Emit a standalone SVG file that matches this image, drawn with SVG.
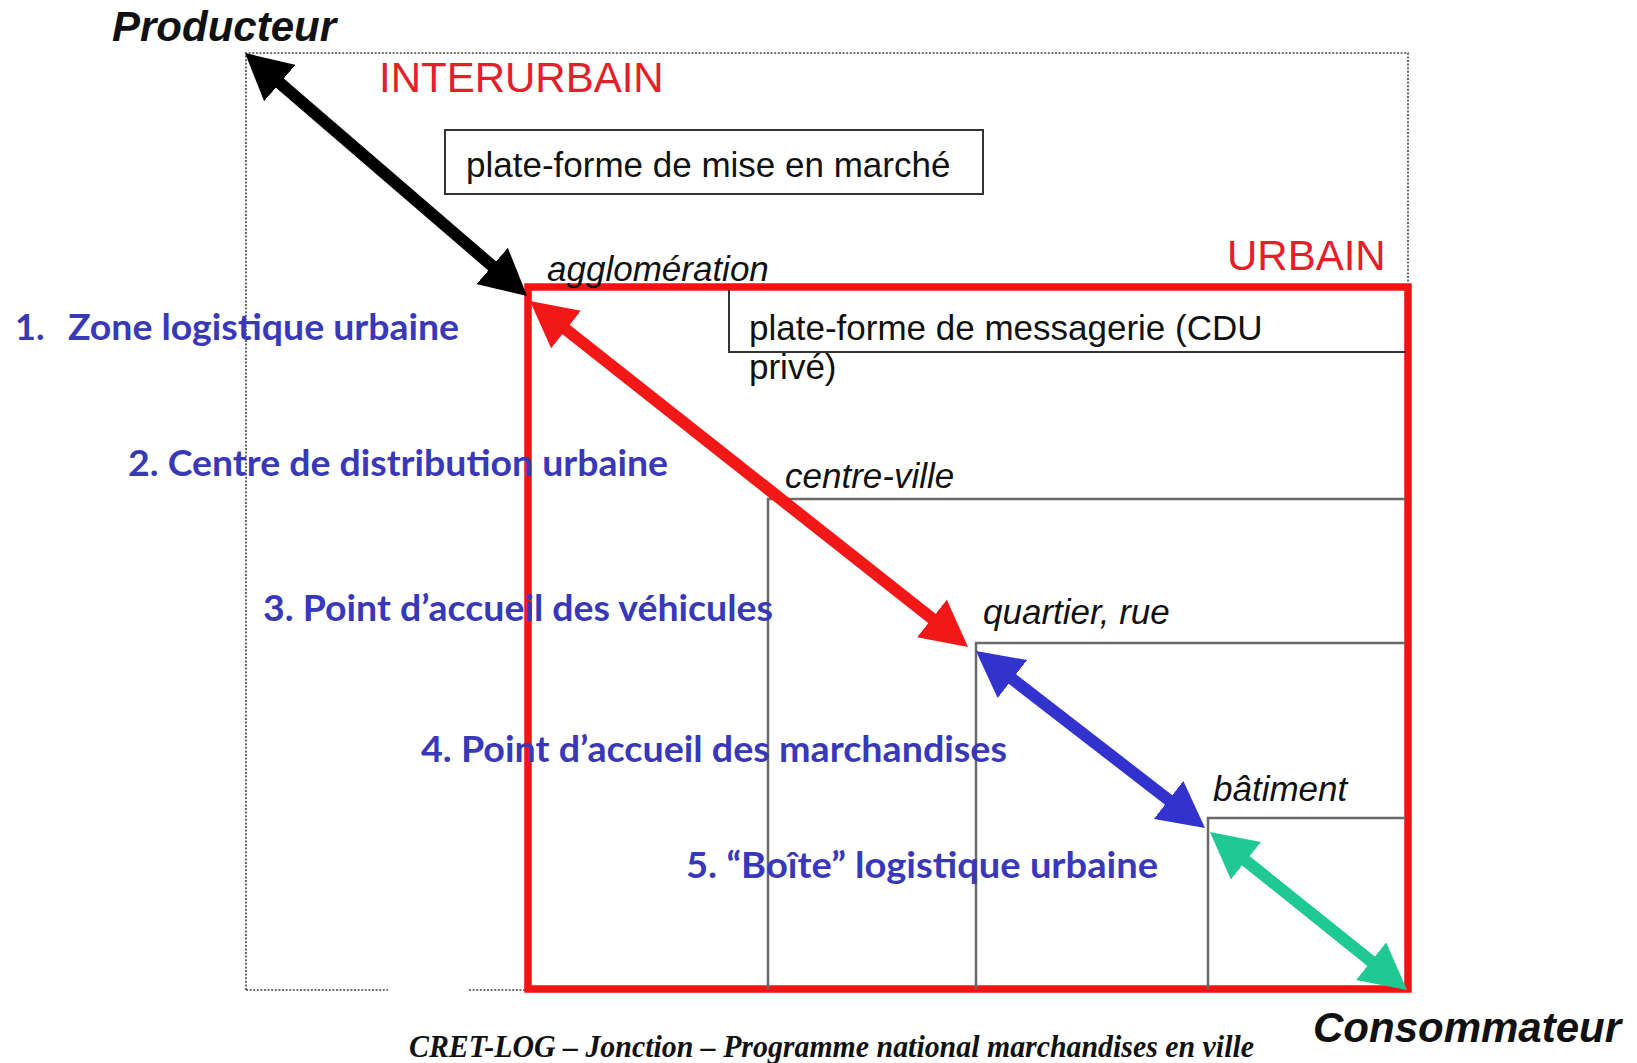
<svg xmlns="http://www.w3.org/2000/svg" width="1637" height="1063" viewBox="0 0 1637 1063">
<style>
.sans{font-family:"Liberation Sans",Arial,sans-serif;}
.box{fill:none;stroke:#333;stroke-width:2;}
.dot{fill:none;stroke:#444;stroke-width:1.6;stroke-dasharray:2 1.6;}
.grid{fill:none;stroke:#6a6a6a;stroke-width:2.5;}
.lbl{font-family:"Liberation Sans",Arial,sans-serif;font-size:35px;fill:#111;}
.it{font-style:italic;}
.big{font-family:"Liberation Sans",Arial,sans-serif;font-size:42px;font-weight:bold;font-style:italic;fill:#111;}
.zone{font-family:"Liberation Sans",Arial,sans-serif;font-size:42px;fill:#e3202a;}
.blue{font-family:Lato,"Open Sans",sans-serif;font-weight:bold;font-size:36px;fill:#3838b8;}
.arrow{fill:none;stroke-width:12;}
</style>
<defs>
<marker id="hk" markerUnits="userSpaceOnUse" markerWidth="46" markerHeight="48" viewBox="0 0 46 48" refX="16" refY="24" orient="auto-start-reverse"><path d="M0,0 L46,24 L0,48 z" fill="#000"/></marker>
<marker id="hr" markerUnits="userSpaceOnUse" markerWidth="46" markerHeight="48" viewBox="0 0 46 48" refX="16" refY="24" orient="auto-start-reverse"><path d="M0,0 L46,24 L0,48 z" fill="#f21818"/></marker>
<marker id="hb" markerUnits="userSpaceOnUse" markerWidth="46" markerHeight="48" viewBox="0 0 46 48" refX="16" refY="24" orient="auto-start-reverse"><path d="M0,0 L46,24 L0,48 z" fill="#3232cc"/></marker>
<marker id="ht" markerUnits="userSpaceOnUse" markerWidth="46" markerHeight="48" viewBox="0 0 46 48" refX="16" refY="24" orient="auto-start-reverse"><path d="M0,0 L46,24 L0,48 z" fill="#20c994"/></marker>
</defs>
<rect width="1637" height="1063" fill="#fff"/>

<g id="interurbain">
<path class="dot" d="M246,990 V53 H1408 V283"/>
<path class="dot" d="M246,990 H388 M469,990 H525"/>
<text class="zone" x="379" y="92">INTERURBAIN</text>
</g>

<g id="plateforme-marche">
<rect class="box" x="445" y="130" width="538" height="64"/>
<text class="lbl" x="466" y="177">plate-forme de mise en marché</text>
</g>

<g id="urbain">
<rect x="528" y="287" width="880" height="702" fill="none" stroke="#f01414" stroke-width="7.5"/>
<text class="zone" x="1227" y="270">URBAIN</text>
<text class="lbl it" x="547" y="281">agglomération</text>
</g>

<g id="plateforme-messagerie">
<path class="box" d="M1406,352 H729 V290"/>
<text class="lbl" x="749" y="340">plate-forme de messagerie (CDU</text>
<text class="lbl" x="749" y="379">privé)</text>
</g>

<g id="centre-ville">
<path class="grid" d="M768,989 V499 H1405"/>
<text class="lbl it" x="785" y="488">centre-ville</text>
</g>

<g id="quartier">
<path class="grid" d="M976,989 V643 H1405"/>
<text class="lbl it" x="983" y="624">quartier, rue</text>
</g>

<g id="batiment">
<path class="grid" d="M1208,989 V818 H1405"/>
<text class="lbl it" x="1213" y="801">bâtiment</text>
</g>

<g id="producteur"><text class="big" x="112" y="41">Producteur</text></g>
<g id="consommateur"><text class="big" x="1313" y="1042">Consommateur</text></g>

<g id="connectors">
<line class="arrow" stroke="#000" x1="267.7" y1="72.6" x2="504.3" y2="276.4" marker-start="url(#hk)" marker-end="url(#hk)"/>
<line class="arrow" stroke="#f21818" x1="553.5" y1="319.6" x2="944.5" y2="628.4" marker-start="url(#hr)" marker-end="url(#hr)"/>
<line class="arrow" stroke="#3232cc" x1="999.7" y1="669.3" x2="1181.3" y2="809.7" marker-start="url(#hb)" marker-end="url(#hb)"/>
<line class="arrow" stroke="#20c994" x1="1233.4" y1="850.8" x2="1383.6" y2="971.2" marker-start="url(#ht)" marker-end="url(#ht)"/>
</g>

<g id="labels">
<text class="blue" x="15" y="340">1.</text>
<text class="blue" x="68" y="340" textLength="391" lengthAdjust="spacingAndGlyphs">Zone logistique urbaine</text>
<text class="blue" x="128" y="476" textLength="540" lengthAdjust="spacingAndGlyphs">2. Centre de distribution urbaine</text>
<text class="blue" x="263" y="621" textLength="510" lengthAdjust="spacingAndGlyphs">3. Point d’accueil des véhicules</text>
<text class="blue" x="421" y="762" textLength="586" lengthAdjust="spacingAndGlyphs">4. Point d’accueil des marchandises</text>
<text class="blue" x="686" y="878" textLength="472" lengthAdjust="spacingAndGlyphs">5. “Boîte” logistique urbaine</text>
</g>

<g id="caption">
<text x="409" y="1057" font-family="'Liberation Serif','Times New Roman',serif" font-weight="bold" font-style="italic" font-size="31" fill="#111" textLength="845" lengthAdjust="spacingAndGlyphs">CRET-LOG – Jonction – Programme national marchandises en ville</text>
</g>
</svg>
